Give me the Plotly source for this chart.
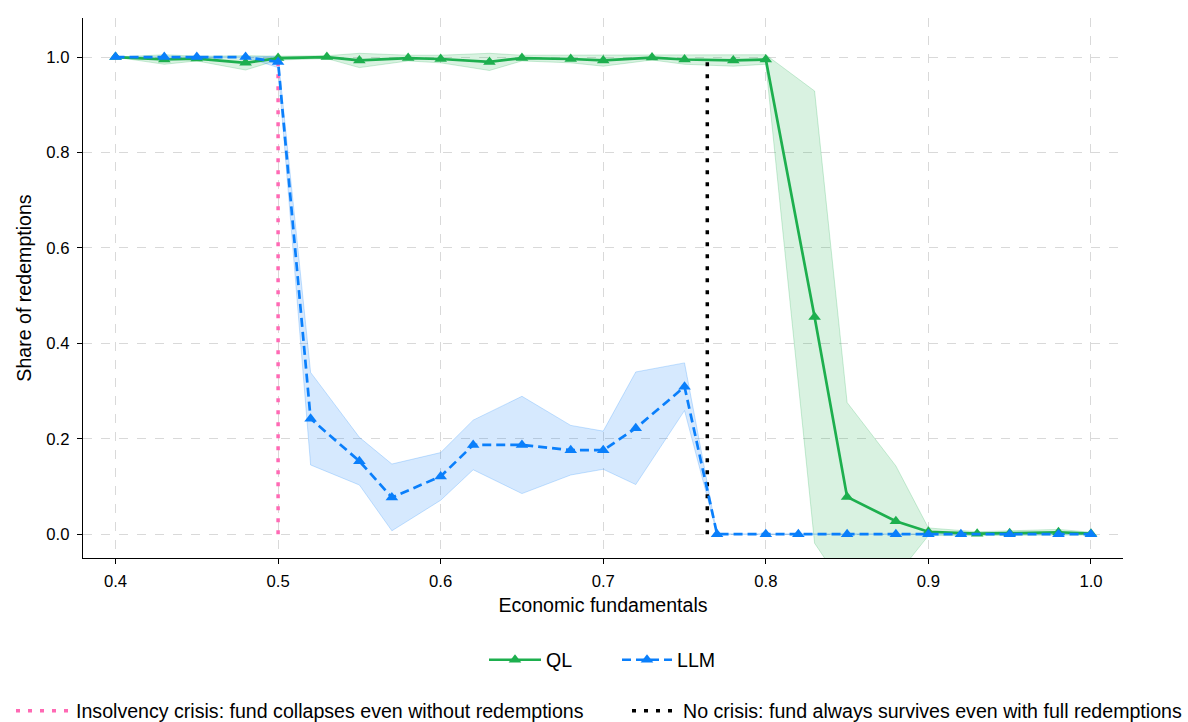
import plotly.graph_objects as go

# ---------------- data ----------------
ql_x = [0.40, 0.43, 0.45, 0.48, 0.50, 0.53, 0.55, 0.58, 0.60, 0.63, 0.65, 0.68, 0.70,
        0.73, 0.75, 0.78, 0.80, 0.83, 0.85, 0.88, 0.90, 0.93, 0.95, 0.98, 1.00]
ql_mean = [1.000, 0.995, 0.997, 0.988, 0.998, 1.000, 0.993, 0.998, 0.996, 0.990, 0.998, 0.996, 0.993,
           0.999, 0.995, 0.993, 0.995, 0.455, 0.078, 0.027, 0.005, 0.001, 0.002, 0.004, 0.001]
ql_std = [0.000, 0.010, 0.005, 0.015, 0.004, 0.003, 0.015, 0.006, 0.008, 0.018, 0.006, 0.008, 0.012,
          0.005, 0.010, 0.012, 0.010, 0.474, 0.198, 0.116, 0.008, 0.004, 0.005, 0.006, 0.003]

llm_x = [0.40, 0.43, 0.45, 0.48, 0.50, 0.52, 0.55, 0.57, 0.60, 0.62, 0.65, 0.68, 0.70,
         0.72, 0.75, 0.77, 0.80, 0.82, 0.85, 0.88, 0.90, 0.92, 0.95, 0.98, 1.00]
llm_mean = [1.000, 1.000, 1.000, 1.000, 0.990, 0.242, 0.153, 0.077, 0.121, 0.187, 0.187, 0.176, 0.176,
            0.222, 0.309, 0.000, 0.000, 0.000, 0.000, 0.000, 0.000, 0.000, 0.000, 0.000, 0.000]
llm_std = [0.000, 0.000, 0.000, 0.000, 0.012, 0.097, 0.050, 0.070, 0.050, 0.052, 0.102, 0.052, 0.040,
           0.118, 0.050, 0.000, 0.000, 0.000, 0.000, 0.000, 0.000, 0.000, 0.000, 0.000, 0.000]

insolvency_x = 0.50
no_crisis_x = 0.764

x_ticks = [0.4, 0.5, 0.6, 0.7, 0.8, 0.9, 1.0]
y_ticks = [0.0, 0.2, 0.4, 0.6, 0.8, 1.0]

GREEN = "#1daf4e"
BLUE = "#0a7ffb"
PINK = "#ff69b4"
FONT = "Liberation Sans, Arial, sans-serif"

W, H = 1188, 722
ML, MR, MT, MB = 83, 65, 18, 164
PW, PH = W - ML - MR, H - MT - MB


def px_x(px):
    return (px - ML) / PW


def px_y(py):
    return (H - MB - py) / PH


fig = go.Figure()


def band(x, m, s, fill, edge):
    up = [a + b for a, b in zip(m, s)]
    lo = [a - b for a, b in zip(m, s)]
    return go.Scatter(x=list(x) + list(x)[::-1], y=up + lo[::-1], fill="toself",
                      fillcolor=fill, line=dict(width=1, color=edge),
                      mode="lines", showlegend=False, hoverinfo="skip")


fig.add_trace(band(ql_x, ql_mean, ql_std, "rgba(29,175,78,0.17)", "rgba(29,175,78,0.22)"))
fig.add_trace(band(llm_x, llm_mean, llm_std, "rgba(10,127,251,0.17)", "rgba(10,127,251,0.22)"))

# vertical reference lines
fig.add_trace(go.Scatter(x=[insolvency_x, insolvency_x], y=[0, 1], mode="lines",
                         line=dict(color=PINK, width=3.5, dash="4px,8px"),
                         name="Insolvency crisis: fund collapses even without redemptions",
                         legend="legend2"))
fig.add_trace(go.Scatter(x=[no_crisis_x, no_crisis_x], y=[0, 1], mode="lines",
                         line=dict(color="black", width=3.5, dash="4px,8px"),
                         name="No crisis: fund always survives even with full redemptions",
                         legend="legend3"))

fig.add_trace(go.Scatter(x=ql_x, y=ql_mean, mode="lines+markers", name="QL",
                         line=dict(color=GREEN, width=2.7),
                         marker=dict(symbol="triangle-up", size=11, color=GREEN),
                         legend="legend"))
fig.add_trace(go.Scatter(x=llm_x, y=llm_mean, mode="lines+markers", name="LLM",
                         line=dict(color=BLUE, width=2.7, dash="9px,5px"),
                         marker=dict(symbol="triangle-up", size=11, color=BLUE),
                         legend="legend4"))

axis_common = dict(showline=True, linecolor="black", linewidth=1.3, ticks="outside",
                   ticklen=5, tickcolor="black", showgrid=True, gridcolor="#d9d9d9",
                   griddash="dash", gridwidth=1, zeroline=False, automargin=False,
                   tickfont=dict(size=16.7, color="black", family=FONT))

LEG_FONT = dict(size=19.6, family=FONT, color="black")


def leg(left_px, center_py, itemwidth):
    return dict(orientation="h", x=px_x(left_px), xanchor="left", y=px_y(center_py),
                yanchor="middle", font=LEG_FONT, bgcolor="rgba(0,0,0,0)",
                itemwidth=itemwidth, borderwidth=0)


fig.update_layout(
    width=W, height=H,
    margin=dict(l=ML, r=MR, t=MT, b=MB, autoexpand=False),
    paper_bgcolor="white", plot_bgcolor="white",
    font=dict(family=FONT, color="black", size=16),
    xaxis=dict(range=[0.38, 1.0197], tickvals=x_ticks, ticktext=[f"{v:.1f}" for v in x_ticks],
               title=dict(text="Economic fundamentals", font=dict(size=19.6), standoff=8),
               ticklabelstandoff=3,
               **axis_common),
    yaxis=dict(range=[-0.05, 1.082], tickvals=y_ticks, ticktext=[f"{v:.1f}" for v in y_ticks],
               title=dict(text="Share of redemptions", font=dict(size=19.6), standoff=9),
               ticklabelstandoff=4,
               **axis_common),
    legend=leg(484, 660, 52),
    legend4=leg(617, 660, 50),
    legend2=leg(11, 711, 55),
    legend3=leg(627, 711, 46),
    showlegend=True,
)

fig.write_html("out.html")
